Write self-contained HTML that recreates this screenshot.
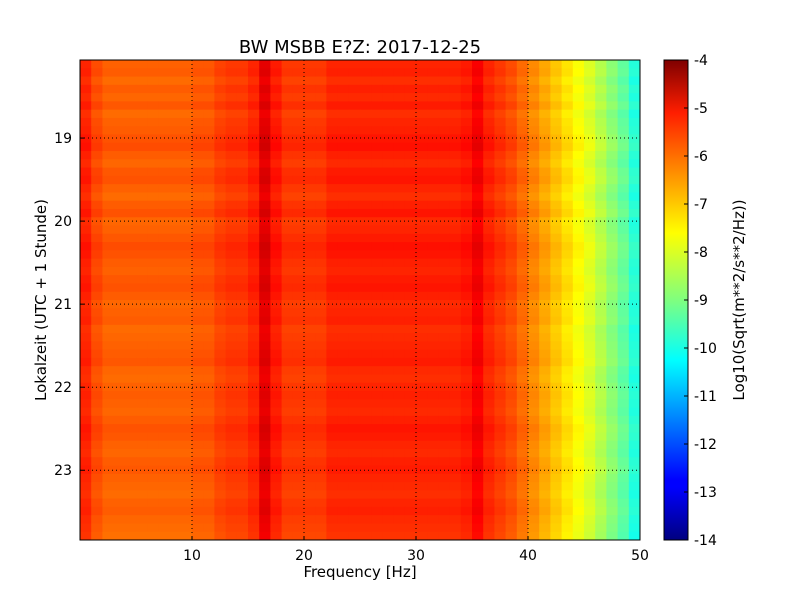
<!DOCTYPE html>
<html><head><meta charset="utf-8">
<style>
body{margin:0;background:#fff;font-family:"Liberation Sans","DejaVu Sans",sans-serif;}
svg text{font-family:"DejaVu Sans","Liberation Sans",sans-serif;}
</style></head>
<body>
<svg id="chart" width="800" height="600" xmlns="http://www.w3.org/2000/svg">
<rect width="800" height="600" fill="#fff"/>
<text x="360" y="53" font-size="18" text-anchor="middle">BW MSBB E?Z: 2017-12-25</text>
<g id="heat"></g>
<g id="grid"></g>
<rect x="80" y="60" width="560" height="480" fill="none" stroke="#000" stroke-width="1"/>
<g id="xt"></g>
<g id="yt"></g>
<text x="360" y="577" font-size="15" text-anchor="middle">Frequency [Hz]</text>
<text transform="translate(46,300) rotate(-90)" font-size="15" text-anchor="middle">Lokalzeit (UTC + 1 Stunde)</text>
<defs><linearGradient id="jet" x1="0" y1="1" x2="0" y2="0">
<stop offset="0" stop-color="#00007f"/><stop offset="0.11" stop-color="#0000ff"/><stop offset="0.125" stop-color="#0000ff"/>
<stop offset="0.34" stop-color="#00dcff"/><stop offset="0.375" stop-color="#00ffff"/><stop offset="0.5" stop-color="#7fff7f"/>
<stop offset="0.64" stop-color="#ffff00"/><stop offset="0.89" stop-color="#ff1e00"/><stop offset="1" stop-color="#7f0000"/>
</linearGradient></defs>
<rect x="664" y="60" width="24" height="480" fill="url(#jet)" stroke="#000"/>
<g id="ct"></g>
<text transform="translate(744,300) rotate(-90)" font-size="15" text-anchor="middle">Log10(Sqrt(m**2/s**2/Hz))</text>
</svg>
<script>
const freqProfile=[-5.6,-6.0,-6.2,-6.2,-6.2,-6.2,-6.2,-6.2,-6.2,-6.2,-6.1,-6.1,-5.9,-5.8,-5.8,-5.6,-5.0,-5.5,-5.8,-5.8,-5.8,-5.8,-5.6,-5.6,-5.6,-5.6,-5.6,-5.6,-5.6,-5.6,-5.6,-5.6,-5.6,-5.6,-5.5,-5.2,-5.6,-5.8,-6.0,-6.3,-6.6,-6.9,-7.2,-7.5,-7.8,-8.1,-8.5,-8.9,-9.3,-9.9];
const timeOffset=[0,0.05,-0.1,0.05,-0.05,0.1,-0.1,0,0.05,0.15,0.2,0.05,-0.05,0.1,0.15,0,-0.1,0.05,0.15,-0.05,0,0.1,0.2,0.15,0.05,0,0.1,0.15,0.05,-0.05,0,0.05,-0.1,-0.05,0,0.05,0.1,-0.05,-0.1,0,0.05,0,-0.05,0.05,0.15,0.1,0,-0.05,0.05,0.1,0,-0.05,-0.1,0,0.05,-0.05,-0.1,-0.15];
const xTicks=[10,20,30,40,50];
const yTicks=[19,20,21,22,23];
const cTicks=[-4,-5,-6,-7,-8,-9,-10,-11,-12,-13,-14];
const NS="http://www.w3.org/2000/svg";
const X0=80,X1=640,Y0=60,Y1=540,T0=18.06,T1=23.84;
const xs=f=>X0+(f/50)*(X1-X0);
const ys=t=>Y0+(t-T0)/(T1-T0)*(Y1-Y0);
const cs=v=>Y0+(-4-v)/10*(Y1-Y0);
function jet(v){let n=Math.max(0,Math.min(1,(v+14)/10));
 const r=Math.max(0,Math.min(1,1.5-Math.abs(4*n-3))),g=Math.max(0,Math.min(1,1.5-Math.abs(4*n-2))),b=Math.max(0,Math.min(1,1.5-Math.abs(4*n-1)));
 return `rgb(${Math.round(r*255)},${Math.round(g*255)},${Math.round(b*255)})`;}
function mk(tag,attrs,parent){const e=document.createElementNS(NS,tag);for(const k in attrs)e.setAttribute(k,attrs[k]);parent.appendChild(e);return e;}
const heat=document.getElementById('heat');
const dt=(T1-T0)/timeOffset.length;
timeOffset.forEach((o,i)=>{freqProfile.forEach((p,j)=>{
 const xa=xs(j),xb=xs(j+1),ya=ys(T0+i*dt),yb=ys(T0+(i+1)*dt);
 const r=mk('rect',{x:xa,y:ya,width:xb-xa+0.5,height:yb-ya+0.5,fill:jet(p+o)},heat);
 
 
});});
const grid=document.getElementById('grid'),xt=document.getElementById('xt'),yt=document.getElementById('yt'),ct=document.getElementById('ct');
xTicks.forEach(f=>{const x=xs(f);
 if(f<50){const l=mk('line',{x1:x,y1:Y0,x2:x,y2:Y1,stroke:'#000','stroke-dasharray':'1,3','stroke-width':1},grid);
 }
 mk('line',{x1:x,y1:Y1,x2:x,y2:Y1-4,stroke:'#000'},xt);
 const t=mk('text',{x:x,y:Y1+20,'font-size':14,'text-anchor':'middle'},xt);t.textContent=f;
 });
yTicks.forEach(h=>{const y=ys(h);
 const l=mk('line',{x1:X0,y1:y,x2:X1,y2:y,stroke:'#000','stroke-dasharray':'1,3','stroke-width':1},grid);
 
 mk('line',{x1:X0,y1:y,x2:X0+4,y2:y,stroke:'#000'},yt);
 const t=mk('text',{x:X0-8,y:y+5,'font-size':14,'text-anchor':'end'},yt);t.textContent=h;
 });
cTicks.forEach(v=>{const y=cs(v);
 mk('line',{x1:684,y1:y,x2:688,y2:y,stroke:'#000'},ct);
 const t=mk('text',{x:694,y:y+5,'font-size':14},ct);t.textContent=v;
 });
</script>
</body></html>
